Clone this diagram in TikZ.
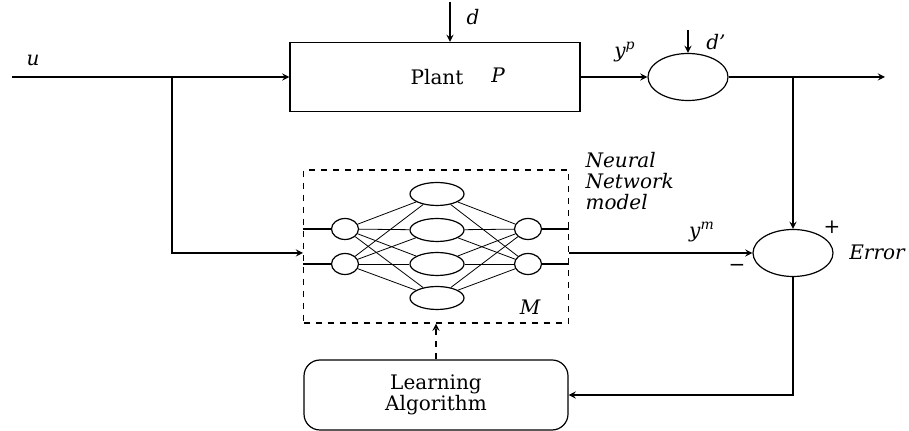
\documentclass[tikz,border=0pt]{standalone}
\usepackage{fontspec}
\setmainfont{DejaVu Serif}
\usetikzlibrary{shapes.geometric}

\begin{document}
\begin{tikzpicture}[x=0.5pt, y=-0.5pt, >=stealth, semithick]
        % Styles
        \tikzset{block/.style={rectangle, draw, minimum width=145pt, minimum height=34.5pt}}
        \tikzset{sumnode/.style={ellipse, draw, minimum width=40pt, minimum height=23.5pt, inner sep=0pt}}
        \tikzset{neuron/.style={ellipse, draw, minimum width=13.5pt, minimum height=10.5pt, inner sep=0pt}}
        \tikzset{hidden/.style={ellipse, draw, minimum width=27pt, minimum height=11.5pt, inner sep=0pt}}
        \tikzset{lbl/.style={font=\itshape\fontsize{10}{10.5}\selectfont, inner sep=1pt}}

        \useasboundingbox (0,0) rectangle (909,431);

        % Blocks
        \node[block] (plant) at (435,77) {};
        \node (plantlbl) at (437,77) {Plant};
        \node[lbl] (plantP) at (498,75) {P};
        \node[sumnode] (sum) at (688,77) {};
        \node[sumnode] (err) at (793,253) {};
        \node[rectangle, draw, dashed, minimum width=132.5pt, minimum height=76.5pt] (nnbox) at (436,246.5) {};
        \node[rectangle, draw, rounded corners=8pt, minimum width=132pt, minimum height=35pt, align=center,
              font=\fontsize{10}{10.5}\selectfont] (learn) at (436,395) {Learning\\Algorithm};

        % Neurons
        \node[neuron] (in1) at (345,229) {};
        \node[neuron] (in2) at (345,264) {};
        \node[hidden] (h1) at (437,194) {};
        \node[hidden] (h2) at (437,230) {};
        \node[hidden] (h3) at (437,264) {};
        \node[hidden] (h4) at (437,298) {};
        \node[neuron] (out1) at (528,229) {};
        \node[neuron] (out2) at (528,264) {};

        % Free ends
        \coordinate (uin) at (12,77);
        \coordinate (split) at (172,77);
        \coordinate (nnin) at (303,253);
        \coordinate (dtop) at (450,2);
        \coordinate (d2top) at (688,30);
        \coordinate (tap) at (793,77);
        \coordinate (yout) at (885,77);

        % Labels
        \node[lbl] (ulbl) at (33,60) {u};
        \node[lbl] (dlbl) at (473,17) {d};
        \node[lbl] (d2lbl) at (716,42) {d'};
        \node[lbl] (yplbl) at (625,52) {y\textsuperscript{p}};
        \node[lbl] (ymlbl) at (702,232) {y\textsuperscript{m}};
        \node (pluslbl) at (832,227) {+};
        \node (minuslbl) at (737,268) {\textminus};
        \node[lbl] (errlbl) at (877,252) {Error};
        \node[lbl, align=left, anchor=north west] (nnlbl) at (583,150) {Neural\\Network\\model};
        \node[lbl] (Mlbl) at (530,307) {M};

        % Connections
        \draw[->] (uin) -- (plant);
        \draw[->] (split) |- (nnin);
        \draw[->] (dtop) -- (plant.north -| dtop);
        \draw[->] (plant) -- (sum);
        \draw[->] (d2top) -- (sum);
        \draw[->] (sum) -- (yout);
        \draw[->] (tap) -- (err);
        \draw[->] (nnbox.east |- err) -- (err);
        \draw[->] (err) |- (learn);
        \draw[->, dashed] (learn) -- (nnbox);

        % Network
        \draw (nnbox.west |- in1) -- (in1);
        \draw (nnbox.west |- in2) -- (in2);
        \draw (out1) -- (nnbox.east |- out1);
        \draw (out2) -- (nnbox.east |- out2);
        \foreach \i in {in1,in2}
            \foreach \h in {h1,h2,h3,h4}
                \draw[thin] (\i) -- (\h);
        \foreach \h in {h1,h2,h3,h4}
            \foreach \o in {out1,out2}
                \draw[thin] (\h) -- (\o);
    \end{tikzpicture}
\end{document}
